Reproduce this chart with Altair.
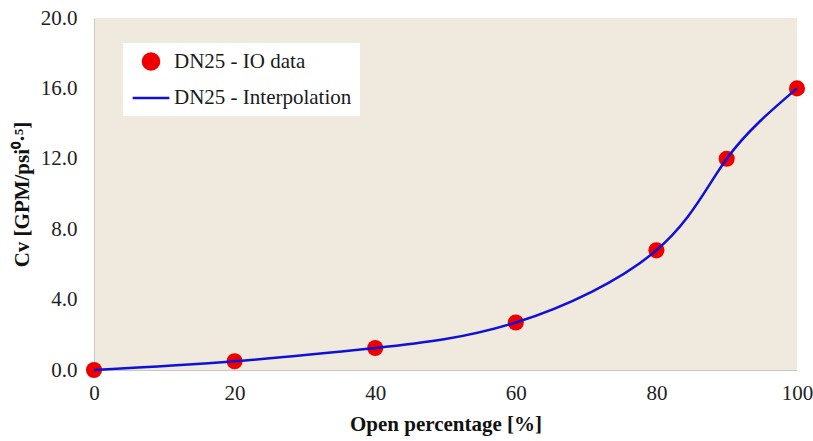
import altair as alt
import pandas as pd

# Measured flow coefficient of the DN25 valve at each opening
open_pct = [0, 20, 40, 60, 80, 90, 100]
cv_values = [0.0, 0.5, 1.25, 2.7, 6.8, 12.0, 16.0]

series_names = ["DN25 - IO data", "DN25 - Interpolation"]
series_colors = ["#ee0000", "#1010d8"]

pts = pd.DataFrame({"x": open_pct, "cv": cv_values, "series": series_names[0]})
curve = pd.DataFrame({"x": open_pct, "cv": cv_values, "series": series_names[1]})

font = "Liberation Serif"

x_enc = alt.X(
    "x:Q",
    scale=alt.Scale(domain=[0, 100], nice=False),
    axis=alt.Axis(
        values=[0, 20, 40, 60, 80, 100],
        title="Open percentage [%]",
        grid=False,
        ticks=False,
        labelFlush=False,
        labelPadding=12,
        titlePadding=10,
        labelFont=font,
        labelFontSize=21,
        labelFontWeight="normal",
        labelColor="#222222",
        titleFont=font,
        titleFontSize=21,
        titleFontWeight="bold",
        titleColor="#111111",
        domainColor="#c8c8c8",
    ),
)
y_enc = alt.Y(
    "cv:Q",
    scale=alt.Scale(domain=[0, 20], nice=False),
    axis=alt.Axis(
        values=[0, 4, 8, 12, 16, 20],
        format=".1f",
        title="Cv [GPM/psi⁰·⁵]",
        grid=False,
        ticks=False,
        labelFlush=False,
        labelPadding=17,
        titlePadding=8,
        labelFont=font,
        labelFontSize=21,
        labelFontWeight="normal",
        labelColor="#222222",
        titleFont=font,
        titleFontSize=21,
        titleFontWeight="bold",
        titleColor="#111111",
        domainColor="#c8c8c8",
    ),
)

color_scale = alt.Scale(domain=series_names, range=series_colors)
legend = alt.Legend(
    title=None,
    orient="none",
    legendX=29,
    legendY=25,
    fillColor="white",
    padding=8,
    labelFont=font,
    labelFontSize=21,
    labelFontWeight="normal",
    labelColor="#1a1a1a",
    labelLimit=400,
    symbolStrokeWidth=2.5,
    rowPadding=3,
    labelOffset=3,
)

line = alt.Chart(curve).mark_line(interpolate="natural", strokeWidth=2.5).encode(
    x=x_enc,
    y=y_enc,
    color=alt.Color("series:N", scale=color_scale, legend=legend),
)

points = alt.Chart(pts).mark_point(filled=True, opacity=1).encode(
    x=x_enc,
    y=y_enc,
    color=alt.Color("series:N", scale=color_scale, legend=legend),
    shape=alt.Shape(
        "series:N",
        scale=alt.Scale(domain=series_names, range=["circle", "stroke"]),
        legend=legend,
    ),
    size=alt.Size(
        "series:N",
        scale=alt.Scale(domain=series_names, range=[260, 1350]),
        legend=legend,
    ),
)

chart = (
    alt.layer(points, line)
    .properties(
        width=703,
        height=352,
        autosize=alt.AutoSizeParams(type="none"),
        padding={"left": 94, "top": 18, "right": 16, "bottom": 71},
        background="white",
    )
    .configure_view(fill="#f0eade", stroke=None)
)

chart.save("out.html", embed_options={"renderer": "svg", "actions": False})
